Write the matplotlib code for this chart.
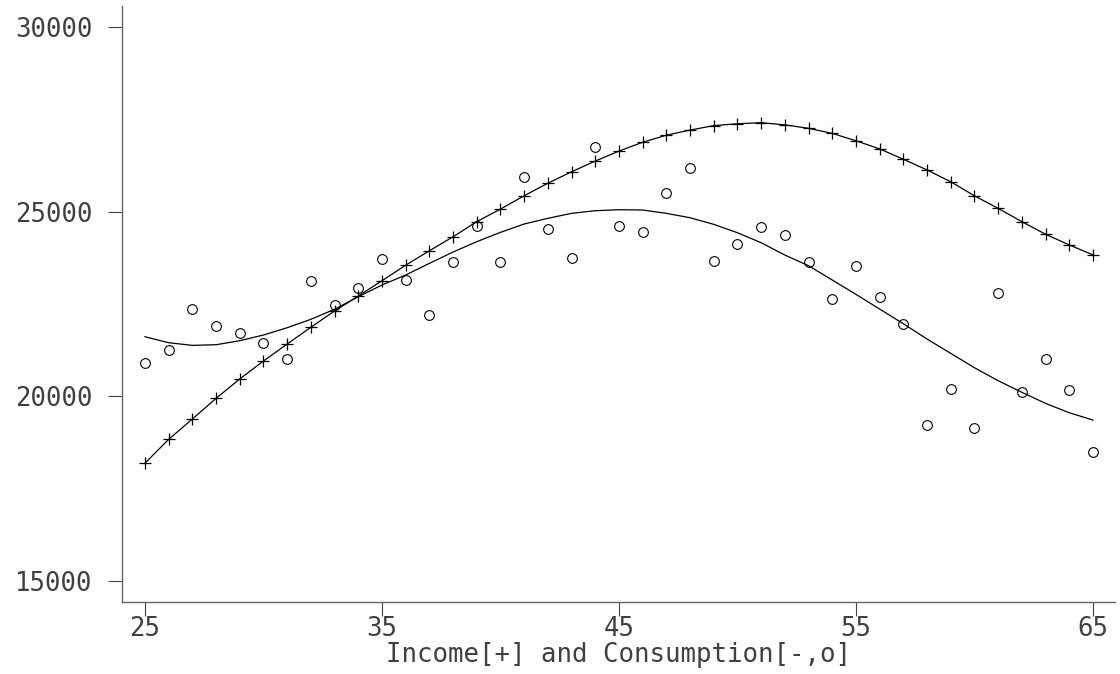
import numpy as np
import matplotlib.pyplot as plt

# age 25..65
age = list(range(25, 66))

income = [18190, 18835, 19386, 19946, 20470, 20956, 21416, 21870, 22310, 22716,
          23130, 23550, 23940, 24320, 24730, 25070, 25430, 25770, 26080, 26370,
          26640, 26880, 27070, 27210, 27330, 27380, 27410, 27350, 27257, 27120,
          26920, 26700, 26420, 26130, 25810, 25430, 25090, 24730, 24390, 24100,
          23830]

consumption = [20893, 21254, 22356, 21904, 21706, 21435, 21002, 23130, 22472, 22925,
               23710, 23150, 22200, 23628, 24610, 23645, 25946, 24520, 23737, 26760,
               24620, 24440, 25497, 26190, 23664, 24132, 24585, 24360, 23628, 22627,
               23528, 22697, 21966, 19213, 20206, 19140, 22806, 20116, 21002, 20170,
               18484]

cons_fit = [21614, 21452, 21380, 21398, 21506, 21660, 21858, 22085, 22356, 22697,
            23014, 23285, 23600, 23907, 24187, 24440, 24666, 24820, 24955, 25026,
            25053, 25045, 24955, 24836, 24657, 24430, 24160, 23826, 23537, 23150,
            22762, 22364, 21966, 21552, 21164, 20775, 20423, 20110, 19810, 19556,
            19358]

xticks = [25, 35, 45, 55, 65]
yticks = [15000, 20000, 25000, 30000]

plt.rcParams['font.family'] = 'DejaVu Sans Mono'
txt = '#404040'

fig = plt.figure(figsize=(11.2, 6.74), dpi=100)
ax = fig.add_axes([0.1089, 0.1068, 0.8866, 0.8843])

ax.plot(age, income, color='black', lw=0.9)
ax.plot(age, income, ls='none', marker='+', ms=8, mew=0.9, color='black')
ax.plot(age, cons_fit, color='black', lw=0.9)
ax.plot(age, consumption, ls='none', marker='o', ms=7, mfc='none', mec='black', mew=0.8)

ax.set_xlim(24.03, 65.93)
ax.set_ylim(14431, 30569)
ax.set_xticks(xticks)
ax.set_yticks(yticks)

for s in ['top', 'right']:
    ax.spines[s].set_visible(False)
for s in ['left', 'bottom']:
    ax.spines[s].set_color('#666666')
    ax.spines[s].set_linewidth(1.0)

ax.tick_params(axis='both', length=10, width=0.8, color='#444444',
               labelsize=18.5, labelcolor=txt)
ax.tick_params(axis='x', pad=0)
ax.tick_params(axis='y', pad=11)

ax.set_xlabel('Income[+] and Consumption[-,o]', fontsize=18.5, color=txt, labelpad=0)

fig.savefig('out.png', dpi=100)
